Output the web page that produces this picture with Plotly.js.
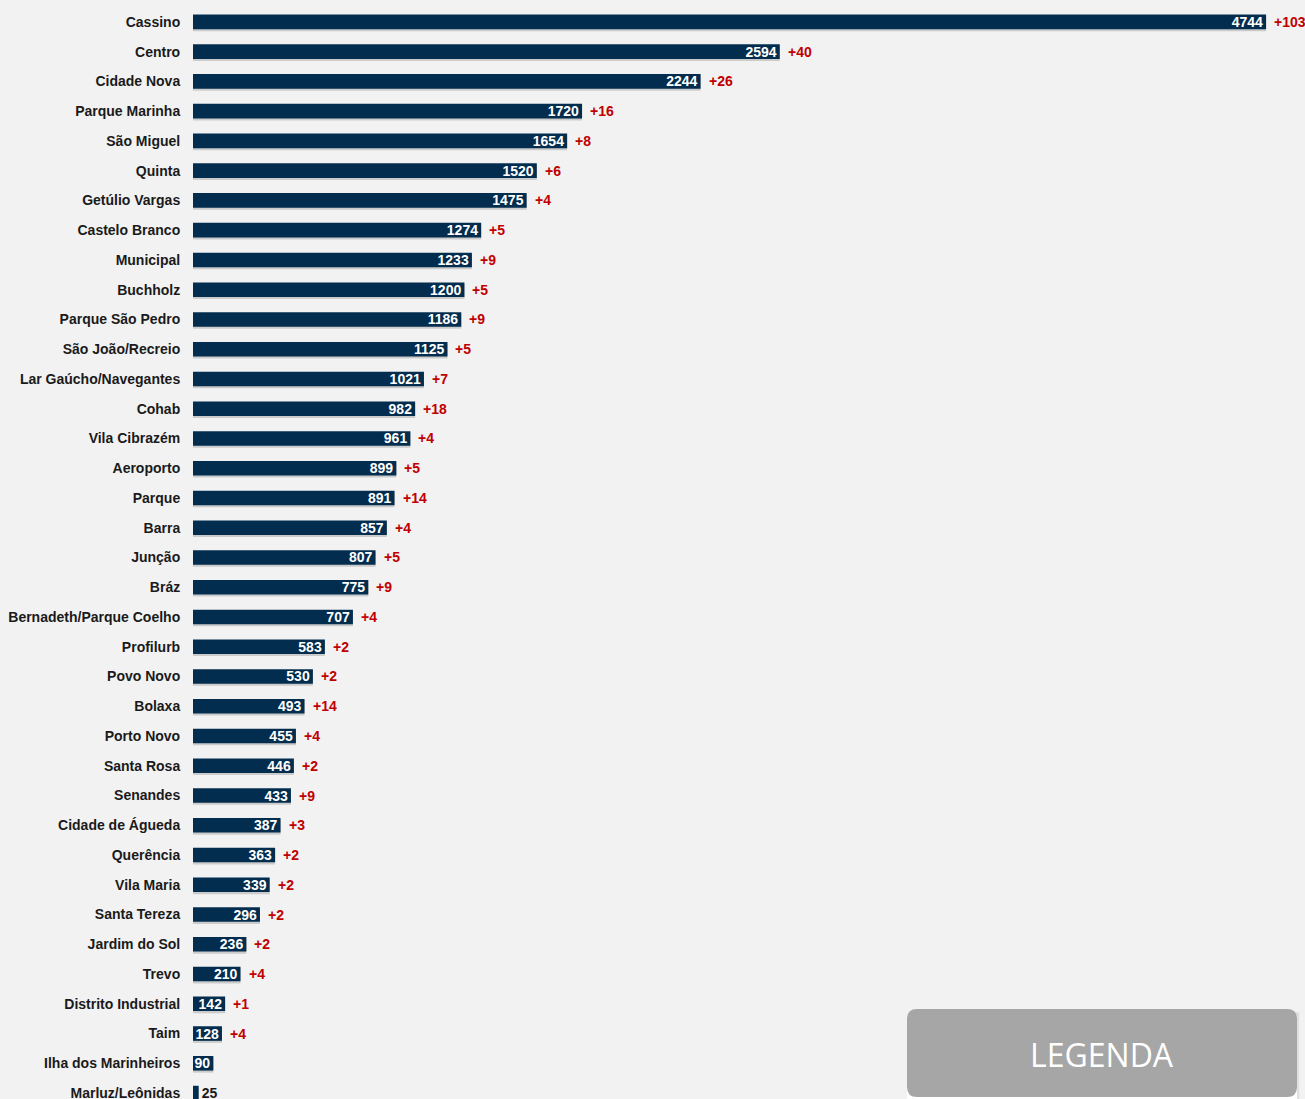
<!DOCTYPE html>
<html>
<head>
<meta charset="utf-8">
<script src="https://cdn.plot.ly/plotly-3.0.1.min.js"></script>
<style>html,body{margin:0;padding:0;background:#f2f2f2;}#chart{width:1305px;height:1099px;}</style>
</head>
<body>
<div id="chart"></div>
<script>
const categories = ["Cassino","Centro","Cidade Nova","Parque Marinha","São Miguel","Quinta","Getúlio Vargas","Castelo Branco","Municipal","Buchholz","Parque São Pedro","São João/Recreio","Lar Gaúcho/Navegantes","Cohab","Vila Cibrazém","Aeroporto","Parque","Barra","Junção","Bráz","Bernadeth/Parque Coelho","Profilurb","Povo Novo","Bolaxa","Porto Novo","Santa Rosa","Senandes","Cidade de Águeda","Querência","Vila Maria","Santa Tereza","Jardim do Sol","Trevo","Distrito Industrial","Taim","Ilha dos Marinheiros","Marluz/Leônidas"];
const values = [4744,2594,2244,1720,1654,1520,1475,1274,1233,1200,1186,1125,1021,982,961,899,891,857,807,775,707,583,530,493,455,446,433,387,363,339,296,236,210,142,128,90,25];
const deltas = ["+103","+40","+26","+16","+8","+6","+4","+5","+9","+5","+9","+5","+7","+18","+4","+5","+14","+4","+5","+9","+4","+2","+2","+14","+4","+2","+9","+3","+2","+2","+2","+2","+4","+1","+4","",""];
const legendText = "LEGENDA";

const BAR = "#032d4e";
const RED = "#c00000";
const FONT = "Liberation Sans, Arial, sans-serif";

const shadow = {
  type: "bar",
  orientation: "h",
  y: categories,
  x: values,
  width: 0.49,
  offset: -0.245 + 0.07,
  marker: {color: "rgba(0,0,0,0.16)", line: {width: 0}},
  hoverinfo: "skip"
};

const trace = {
  type: "bar",
  orientation: "h",
  y: categories,
  x: values,
  width: 0.49,
  offset: -0.245,
  marker: {color: BAR, line: {width: 0}},
  text: values.map(String),
  textposition: values.map(v => v < 50 ? "outside" : "inside"),
  insidetextanchor: "end",
  textangle: 0,
  constraintext: "none",
  cliponaxis: false,
  textfont: {family: FONT, size: 14, color: values.map(v => v < 50 ? "#1a1a1a" : "#ffffff"), weight: "bold"},
  hoverinfo: "skip"
};

const annotations = [];
categories.forEach((c, i) => {
  if (deltas[i]) {
    annotations.push({
      x: values[i], y: c, xref: "x", yref: "y",
      text: "<b>" + deltas[i] + "</b>", showarrow: false,
      xanchor: "left", xshift: 6,
      font: {family: FONT, size: 14, color: RED}
    });
  }
});

// paper coordinate helpers (plot area: x 193..1305, y 7..1099)
const px = p => (p - 193) / 1112;
const py = p => (1099 - p) / 1092;
const bx0 = px(907), bx1 = px(1297), by0 = py(1097), by1 = py(1009);
const rx = 10 / 1112, ry = 10 / 1092;
const roundPath = `M ${bx0+rx},${by1} L ${bx1-rx},${by1} Q ${bx1},${by1} ${bx1},${by1-ry} L ${bx1},${by0+ry} Q ${bx1},${by0} ${bx1-rx},${by0} L ${bx0+rx},${by0} Q ${bx0},${by0} ${bx0},${by0+ry} L ${bx0},${by1-ry} Q ${bx0},${by1} ${bx0+rx},${by1} Z`;

annotations.push({
  xref: "paper", yref: "paper", x: px(1102), y: py(1054),
  text: legendText, showarrow: false, xanchor: "center", yanchor: "middle",
  font: {family: "Open Sans, sans-serif", size: 32, color: "#ffffff"}
});

const layout = {
  width: 1305, height: 1099,
  margin: {l: 193, r: 0, t: 7, b: 0, pad: 0},
  paper_bgcolor: "#f2f2f2",
  plot_bgcolor: "#f2f2f2",
  showlegend: false,
  barmode: "overlay",
  xaxis: {range: [0, 4916], visible: false, showgrid: false, zeroline: false, fixedrange: true},
  yaxis: {
    type: "category", autorange: false, range: [36.2, -0.5],
    showgrid: false, zeroline: false, showline: false,
    ticks: "outside", ticklen: 9, tickcolor: "rgba(0,0,0,0)",
    tickfont: {family: FONT, size: 14, color: "#1a1a1a", weight: "bold"},
    automargin: false, fixedrange: true
  },
  shapes: [
    {type: "rect", xref: "paper", yref: "paper", x0: bx0 + 0.002, x1: bx1 + 0.002, y0: by0 - 0.004, y1: by1 - 0.003, line: {width: 0}, fillcolor: "rgba(0,0,0,0.08)", layer: "above"},
    {type: "rect", xref: "paper", yref: "paper", x0: bx0, x1: bx1, y0: -0.01, y1: py(1085), line: {width: 0}, fillcolor: "#ffffff", layer: "above"},
    {type: "path", xref: "paper", yref: "paper", path: roundPath, line: {width: 0}, fillcolor: "#a6a6a6", layer: "above"}
  ],
  annotations: annotations
};

Plotly.newPlot("chart", [shadow, trace], layout, {staticPlot: true, displayModeBar: false});
</script>
</body>
</html>
